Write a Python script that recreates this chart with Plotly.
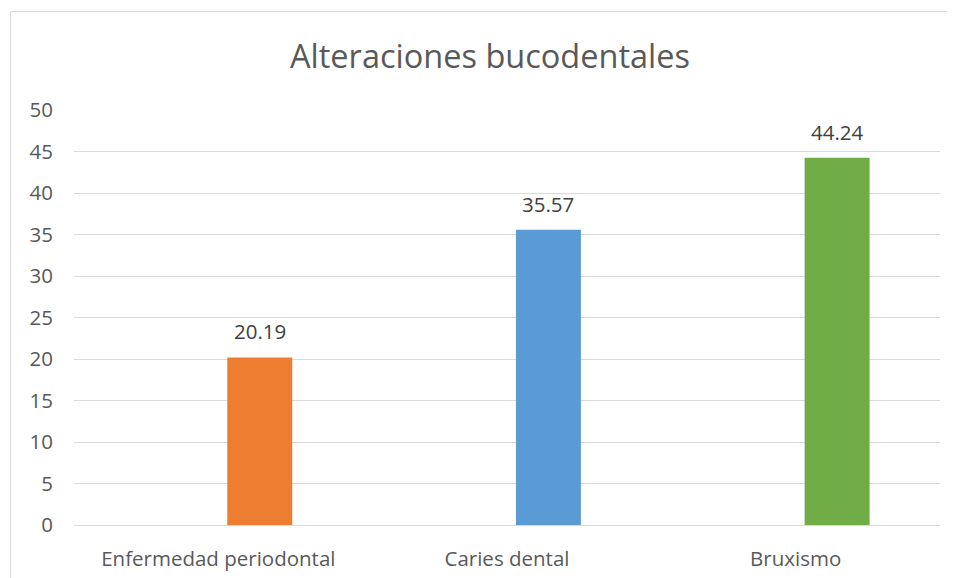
import plotly.graph_objects as go

categories = ["Enfermedad periodontal", "Caries dental", "Bruxismo"]
values = [20.19, 35.57, 44.24]
colors = ["#ED7D31", "#5B9BD5", "#70AD47"]
labels = ["20.19", "35.57", "44.24"]
title_text = "Alteraciones bucodentales"

FONT = "Open Sans"
bar_width = 0.225
bar_offset = 0.031

fig = go.Figure()
fig.add_trace(go.Bar(
    x=categories, y=values, marker=dict(color=colors, line=dict(width=0)),
    width=bar_width, offset=bar_offset, showlegend=False, hoverinfo="skip",
))

for i, (v, t) in enumerate(zip(values, labels)):
    fig.add_annotation(x=i + bar_offset + bar_width / 2, y=v, text=t, showarrow=False,
                       yanchor="bottom", yshift=10,
                       font=dict(family=FONT, size=20.5, color="#404040"))

# page body has an 8px default margin; size the figure so the view matches 955x578
PAD = 8
W, H = 955 - PAD, 578 - PAD
L, R, T, B = 74 - PAD, 15, 110 - PAD, 578 - 525
pw, ph = W - L - R, H - T - B
# chart border: only top and left edges are visible in the view
bx0 = (10.5 - PAD - L) / pw
by1 = (ph + T - (11.5 - PAD)) / ph
fig.add_shape(type="line", xref="paper", yref="paper", x0=bx0, x1=(W + 30 - L) / pw,
              y0=by1, y1=by1, line=dict(color="#D9D9D9", width=1), layer="below")
fig.add_shape(type="line", xref="paper", yref="paper", x0=bx0, x1=bx0,
              y0=-80 / ph, y1=by1, line=dict(color="#D9D9D9", width=1), layer="below")

fig.update_layout(
    template="none",
    width=W, height=H,
    margin=dict(l=L, r=R, t=T, b=B, autoexpand=False),
    paper_bgcolor="white", plot_bgcolor="white",
    title=dict(text=title_text, x=(490 - PAD) / W, xref="container", xanchor="center",
               y=1 - (57 - PAD) / H, yref="container", yanchor="middle",
               font=dict(family=FONT, size=32.5, color="#595959")),
    xaxis=dict(type="category", showgrid=False, showline=False, ticks="", automargin=False,
               zeroline=False,
               tickfont=dict(family=FONT, size=20.5, color="#595959"), ticklabelstandoff=19,
               range=[-0.5, 2.5]),
    yaxis=dict(range=[0, 50], dtick=5, showgrid=True, gridcolor="#D9D9D9", gridwidth=1,
               automargin=False,
               zeroline=True, zerolinecolor="#D9D9D9", zerolinewidth=1, showline=False, ticks="",
               tickfont=dict(family=FONT, size=20.5, color="#595959"), ticklabelstandoff=20),
    font=dict(family=FONT),
    showlegend=False,
)

fig.write_html("out.html")
